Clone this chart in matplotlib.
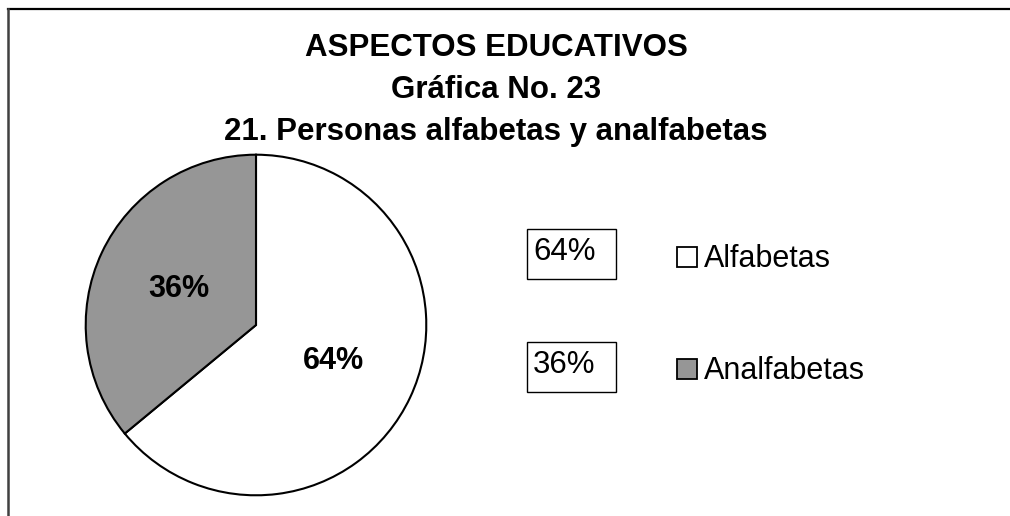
import matplotlib
matplotlib.use('Agg')
import matplotlib.pyplot as plt
from matplotlib.patches import Rectangle
from matplotlib.lines import Line2D

plt.rcParams['font.family'] = ['Liberation Sans', 'DejaVu Sans']

# datos
categorias = ['Alfabetas', 'Analfabetas']
porcentajes = [64, 36]
colores = ['#ffffff', '#969696']
titulo = ['ASPECTOS EDUCATIVOS', 'Gráfica No. 23', '21. Personas alfabetas y analfabetas']

W, H = 1010, 516
fig = plt.figure(figsize=(W / 100, H / 100), dpi=100)

def fx(px):
    return px / W

def fy(py):
    return 1 - py / H

# marco (solo arriba e izquierda)
fig.add_artist(Line2D([fx(8), fx(1010)], [fy(9), fy(9)], color='black', lw=1.6))
fig.add_artist(Line2D([fx(8), fx(8)], [fy(9), fy(516)], color='#404040', lw=1.8))

# titulo
for i, t in enumerate(titulo):
    fig.text(fx(496), fy(56 + 42 * i), t, ha='center', va='baseline',
             fontsize=22.5, fontweight='bold')

# pastel
cx, cy, r = 256, 325, 172
ax = fig.add_axes([fx(cx - r), fy(cy + r), 2 * r / W, 2 * r / H])
wedges, texts, autotexts = ax.pie(
    porcentajes, colors=colores, startangle=90, counterclock=False,
    autopct='%1.0f%%', pctdistance=0.5,
    wedgeprops=dict(edgecolor='black', linewidth=1.5),
    textprops=dict(fontsize=22, fontweight='bold'))
ax.set_xlim(-1.01, 1.01)
ax.set_ylim(-1.01, 1.01)
ax.set_aspect('equal')
ax.axis('off')

# cajas de etiquetas y leyenda
for i, (cat, val, col) in enumerate(zip(categorias, porcentajes, colores)):
    top = 229 + 113 * i
    fig.add_artist(Rectangle((fx(527), fy(top + 50)), 89 / W, 50 / H,
                             fill=False, edgecolor='black', lw=1.0))
    fig.text(fx(533), fy(top + 31), f'{val}%', ha='left', va='baseline', fontsize=22.5)
    ltop = 247 + 112 * i
    fig.add_artist(Rectangle((fx(677), fy(ltop + 20)), 20 / W, 20 / H,
                             facecolor=col, edgecolor='black', lw=1.3))
    fig.text(fx(704), fy(ltop + 20), cat, ha='left', va='baseline', fontsize=22)

fig.savefig('out.png', dpi=100)
